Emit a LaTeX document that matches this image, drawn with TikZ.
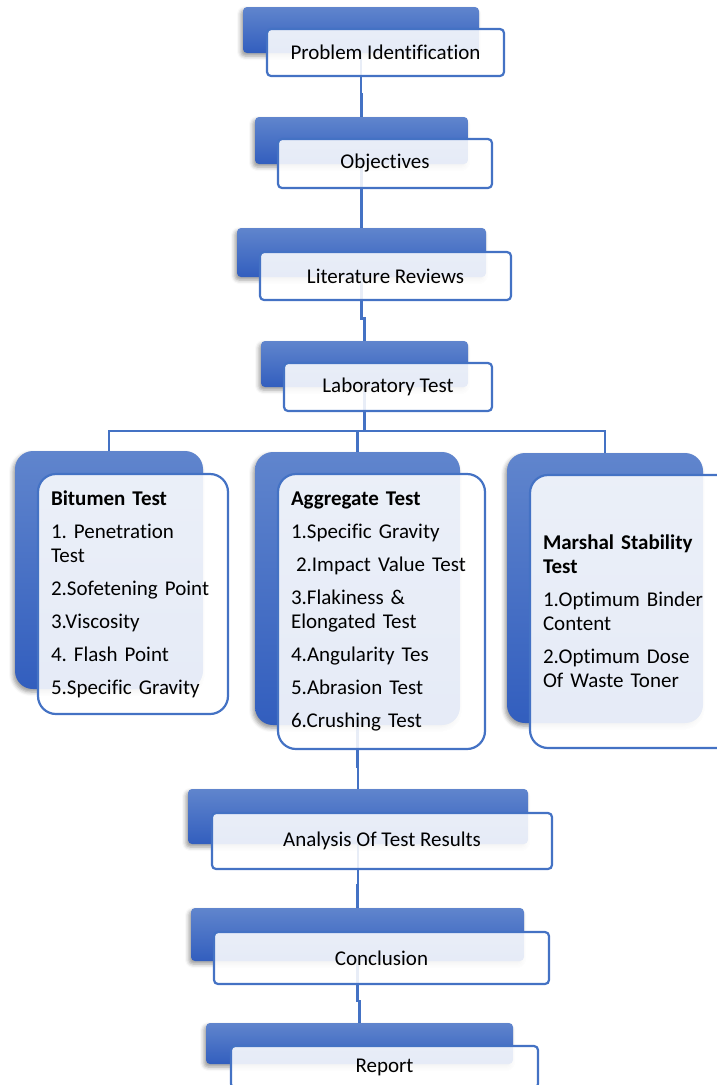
\documentclass[tikz,border=0pt]{standalone}
\usepackage{fontspec}
\setmainfont{Carlito}[Ligatures={NoCommon}]
\usepackage{tikz}
\usetikzlibrary{calc,backgrounds,shadows.blur}
\definecolor{linkblue}{RGB}{68,114,196}
\definecolor{boxtop}{RGB}{96,133,205}
\definecolor{boxbot}{RGB}{50,94,190}
\tikzset{
  back/.style  ={rounded corners=4pt,inner sep=0pt,top color=boxtop,bottom color=boxbot,draw=none,
                 blur shadow={shadow xshift=-2pt,shadow yshift=-3pt,shadow blur radius=4pt,shadow opacity=40}},
  front/.style ={rounded corners=4pt,inner sep=0pt,draw=linkblue,line width=2.2pt,fill=white,
                 fill opacity=.88,text opacity=1,font=\fontsize{21}{24}\selectfont\frenchspacing},
  tall/.style  ={rounded corners=18pt},
  list/.style  ={align=left,inner xsep=13pt},
  link/.style  ={draw=linkblue,line width=2.4pt},
}

\begin{document}
\begin{tikzpicture}[x=1pt,y=-1pt]
  \useasboundingbox (0,0) rectangle (716,1085);
  % top chain
  \node[back,minimum width=236pt,minimum height=46pt](probB) at (361,30){};
  \node[front,minimum width=237pt,minimum height=47pt](prob) at (385.5,52.5){Problem Identification};
  \node[back,minimum width=213pt,minimum height=47pt](objB) at (361.5,140.5){};
  \node[front,minimum width=214pt,minimum height=49pt](obj) at (385,163.5){Objectives};
  \node[back,minimum width=249pt,minimum height=49pt](litB) at (361.5,252.5){};
  \node[front,minimum width=251pt,minimum height=48pt](lit) at (385.5,276){Literature Reviews};
  \node[back,minimum width=207pt,minimum height=46pt](labB) at (364.5,364){};
  \node[front,minimum width=208pt,minimum height=48pt](lab) at (388,387){Laboratory Test};
  % the three test groups
  \node[back,tall,minimum width=188pt,minimum height=238pt](bitB) at (109,570){};
  \node[front,tall,list,text width=164pt,minimum height=240pt](bit) at (133,594){%
    {\bfseries Bitumen Test}\\[9pt]1. Penetration\\Test\\[9pt]2.Sofetening Point\\[9pt]3.Viscosity\\[9pt]4. Flash Point\\[9pt]5.Specific Gravity};
  \node[back,tall,minimum width=205pt,minimum height=273pt](aggB) at (357.5,588.5){};
  \node[front,tall,list,text width=181pt,minimum height=275pt](agg) at (381.5,611.5){%
    {\bfseries Aggregate Test}\\[9pt]1.Specific Gravity\\[9pt]\hspace{5pt}2.Impact Value Test\\[9pt]3.Flakiness \&\\Elongated Test\\[9pt]4.Angularity Tes\\[9pt]5.Abrasion Test\\[9pt]6.Crushing Test};
  \node[back,tall,minimum width=196pt,minimum height=270pt](marB) at (605,588){};
  \node[front,tall,list,text width=181pt,minimum height=273pt](mar) at (633.5,611.5){%
    {\bfseries Marshal Stability\\Test}\\[9pt]1.Optimum Binder\\Content\\[9pt]2.Optimum Dose\\Of Waste Toner};
  % bottom chain
  \node[back,minimum width=340pt,minimum height=55pt](anaB) at (358,816.5){};
  \node[front,minimum width=340pt,minimum height=56pt](ana) at (382,841){Analysis Of Test Results};
  \node[back,minimum width=333pt,minimum height=53pt](conB) at (357.5,934.5){};
  \node[front,minimum width=335pt,minimum height=52pt](con) at (381.5,958){Conclusion};
  \node[back,minimum width=307pt,minimum height=41pt](repB) at (359.5,1043.5){};
  \node[front,minimum width=307pt,minimum height=42pt](rep) at (384.5,1067){Report};
  % connectors
  \begin{scope}[on background layer]
    \foreach \a/\b in {probB/objB,objB/litB,litB/labB,aggB/anaB,anaB/conB,conB/repB}
      \draw[link](\a.south) |- ($(\a.south)!.65!(\b.north)$) -| (\b.north);
    \coordinate (split) at ($(labB.south)+(0,44)$);
    \foreach \n in {bitB,aggB,marB}
      \draw[link](labB.south) -- (split) -| (\n.north);
  \end{scope}
\end{tikzpicture}
\end{document}
